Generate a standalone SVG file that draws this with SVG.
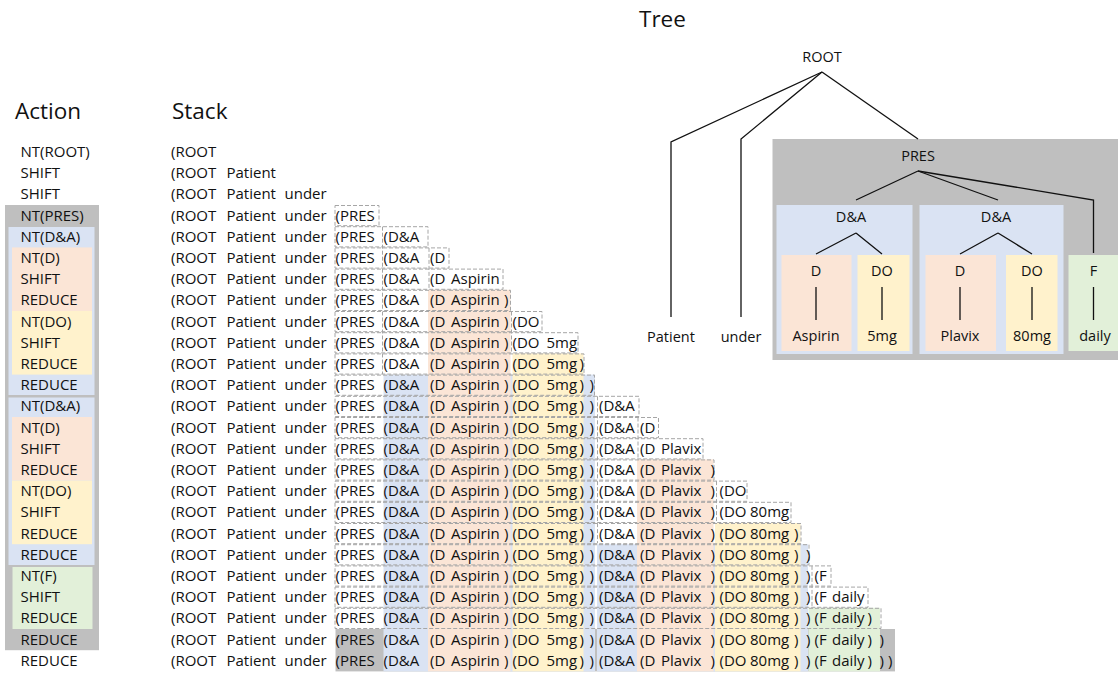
<svg xmlns="http://www.w3.org/2000/svg" width="1118" height="673" viewBox="0 0 1118 673">
<style>
text{font-family:"Open Sans","Liberation Sans",sans-serif;fill:#111;}
.t{font-size:15px;}
.n{font-size:14.5px;text-anchor:middle;}
.h{font-size:22.5px;}
.gr{fill:#bfbfbf;}
.bl{fill:#dae3f3;}
.or{fill:#fbe5d6;}
.ye{fill:#fff2cc;}
.gn{fill:#e2f0d9;}
.dash{fill:none;stroke:#a6a6a6;stroke-width:1;stroke-dasharray:4 2;}
.ln{fill:none;stroke:#111;stroke-width:1.3;}
</style>
<rect width="1118" height="673" fill="#fff"/>

<!-- titles -->
<text class="h" x="15" y="119">Action</text>
<text class="h" x="172" y="119">Stack</text>
<text class="h" x="639" y="27">Tree</text>

<!-- action column -->
<g id="action-column">
<rect class="gr" x="5" y="205" width="94" height="445.2"/>
<rect class="bl" x="8.5" y="227" width="86" height="168"/>
<rect class="or" x="12" y="247.4" width="80" height="63.6"/>
<rect class="ye" x="12" y="311" width="80" height="63.6"/>
<rect class="bl" x="8.5" y="397.5" width="86" height="167.5"/>
<rect class="or" x="12" y="417" width="80" height="63.6"/>
<rect class="ye" x="12" y="480.6" width="80" height="63.6"/>
<rect class="gn" x="12.5" y="567" width="80" height="62"/>
<g class="t">
<text x="20.5" y="157">NT(ROOT)</text>
<text x="20.5" y="178.2">SHIFT</text>
<text x="20.5" y="199.4">SHIFT</text>
<text x="20.5" y="220.6">NT(PRES)</text>
<text x="20.5" y="241.8">NT(D&amp;A)</text>
<text x="20.5" y="263">NT(D)</text>
<text x="20.5" y="284.2">SHIFT</text>
<text x="20.5" y="305.4">REDUCE</text>
<text x="20.5" y="326.6">NT(DO)</text>
<text x="20.5" y="347.8">SHIFT</text>
<text x="20.5" y="369">REDUCE</text>
<text x="20.5" y="390.2">REDUCE</text>
<text x="20.5" y="411.4">NT(D&amp;A)</text>
<text x="20.5" y="432.6">NT(D)</text>
<text x="20.5" y="453.8">SHIFT</text>
<text x="20.5" y="475">REDUCE</text>
<text x="20.5" y="496.2">NT(DO)</text>
<text x="20.5" y="517.4">SHIFT</text>
<text x="20.5" y="538.6">REDUCE</text>
<text x="20.5" y="559.8">REDUCE</text>
<text x="20.5" y="581">NT(F)</text>
<text x="20.5" y="602.2">SHIFT</text>
<text x="20.5" y="623.4">REDUCE</text>
<text x="20.5" y="644.6">REDUCE</text>
<text x="20.5" y="665.8">REDUCE</text>
</g>
</g>

<!-- stack highlight bands -->
<g id="stack-bands">
<rect class="gr" x="335.5" y="629" width="559.5" height="42.4"/>
<rect class="bl" x="383.5" y="374.6" width="211.5" height="296.8"/>
<rect class="or" x="428" y="289.8" width="82.5" height="381.6"/>
<rect class="ye" x="512.5" y="353.4" width="71" height="318"/>
<rect class="bl" x="597" y="544.2" width="211" height="127.2"/>
<rect class="or" x="637" y="459.4" width="76.5" height="212"/>
<rect class="ye" x="715" y="523" width="85.5" height="148.4"/>
<rect class="gn" x="808.5" y="607.8" width="71.5" height="63.6"/>
</g>

<!-- open-constituent dashed boxes -->
<g id="stack-open-boxes">
<rect class="dash" x="335" y="205.5" width="44" height="20.2"/>
<rect class="dash" x="335" y="226.7" width="93" height="20.2"/>
<rect class="dash" x="335" y="247.9" width="114" height="20.2"/>
<rect class="dash" x="335" y="269.1" width="168" height="20.2"/>
<rect class="dash" x="335" y="290.3" width="175.5" height="20.2"/>
<rect class="dash" x="335" y="311.5" width="207" height="20.2"/>
<rect class="dash" x="335" y="332.7" width="243" height="20.2"/>
<rect class="dash" x="335" y="353.9" width="249" height="20.2"/>
<rect class="dash" x="335" y="375.1" width="259.5" height="20.2"/>
<rect class="dash" x="335" y="396.3" width="304" height="20.2"/>
<rect class="dash" x="335" y="417.5" width="323.5" height="20.2"/>
<rect class="dash" x="335" y="438.7" width="368" height="20.2"/>
<rect class="dash" x="335" y="459.9" width="379" height="20.2"/>
<rect class="dash" x="335" y="481.1" width="412" height="20.2"/>
<rect class="dash" x="335" y="502.3" width="456" height="20.2"/>
<rect class="dash" x="335" y="523.5" width="466" height="20.2"/>
<rect class="dash" x="335" y="544.7" width="474" height="20.2"/>
<rect class="dash" x="335" y="565.9" width="496" height="20.2"/>
<rect class="dash" x="335" y="587.1" width="533" height="20.2"/>
<rect class="dash" x="335" y="608.3" width="546" height="20.2"/>
<path class="dash" d="M382.5 226.7V310.5 M382.5 311.5V374.1 M429 247.9V289.3 M511.5 311.5V352.9 M597.5 396.3V480.1 M597.5 481.1V543.2 M638 417.5V458.9 M716.5 481.1V522.5 M812 565.9V607.3"/>
</g>

<!-- stack rows -->
<g id="stack-rows" class="t">
<text y="157"><tspan x="171">(ROOT</tspan></text>
<text y="178.2"><tspan x="171">(ROOT</tspan><tspan x="226.5">Patient</tspan></text>
<text y="199.4"><tspan x="171">(ROOT</tspan><tspan x="226.5">Patient</tspan><tspan x="284.5">under</tspan></text>
<text y="220.6"><tspan x="171">(ROOT</tspan><tspan x="226.5">Patient</tspan><tspan x="284.5">under</tspan><tspan x="335.5">(PRES</tspan></text>
<text y="241.8"><tspan x="171">(ROOT</tspan><tspan x="226.5">Patient</tspan><tspan x="284.5">under</tspan><tspan x="335.5">(PRES</tspan><tspan x="383.5">(D&amp;A</tspan></text>
<text y="263"><tspan x="171">(ROOT</tspan><tspan x="226.5">Patient</tspan><tspan x="284.5">under</tspan><tspan x="335.5">(PRES</tspan><tspan x="383.5">(D&amp;A</tspan><tspan x="430">(D</tspan></text>
<text y="284.2"><tspan x="171">(ROOT</tspan><tspan x="226.5">Patient</tspan><tspan x="284.5">under</tspan><tspan x="335.5">(PRES</tspan><tspan x="383.5">(D&amp;A</tspan><tspan x="430">(D</tspan><tspan x="451">Aspirin</tspan></text>
<text y="305.4"><tspan x="171">(ROOT</tspan><tspan x="226.5">Patient</tspan><tspan x="284.5">under</tspan><tspan x="335.5">(PRES</tspan><tspan x="383.5">(D&amp;A</tspan><tspan x="430">(D</tspan><tspan x="451">Aspirin</tspan><tspan x="504">)</tspan></text>
<text y="326.6"><tspan x="171">(ROOT</tspan><tspan x="226.5">Patient</tspan><tspan x="284.5">under</tspan><tspan x="335.5">(PRES</tspan><tspan x="383.5">(D&amp;A</tspan><tspan x="430">(D</tspan><tspan x="451">Aspirin</tspan><tspan x="504">)</tspan><tspan x="512.5">(DO</tspan></text>
<text y="347.8"><tspan x="171">(ROOT</tspan><tspan x="226.5">Patient</tspan><tspan x="284.5">under</tspan><tspan x="335.5">(PRES</tspan><tspan x="383.5">(D&amp;A</tspan><tspan x="430">(D</tspan><tspan x="451">Aspirin</tspan><tspan x="504">)</tspan><tspan x="512.5">(DO</tspan><tspan x="546.5">5mg</tspan></text>
<text y="369"><tspan x="171">(ROOT</tspan><tspan x="226.5">Patient</tspan><tspan x="284.5">under</tspan><tspan x="335.5">(PRES</tspan><tspan x="383.5">(D&amp;A</tspan><tspan x="430">(D</tspan><tspan x="451">Aspirin</tspan><tspan x="504">)</tspan><tspan x="512.5">(DO</tspan><tspan x="546.5">5mg</tspan><tspan x="579.5">)</tspan></text>
<text y="390.2"><tspan x="171">(ROOT</tspan><tspan x="226.5">Patient</tspan><tspan x="284.5">under</tspan><tspan x="335.5">(PRES</tspan><tspan x="383.5">(D&amp;A</tspan><tspan x="430">(D</tspan><tspan x="451">Aspirin</tspan><tspan x="504">)</tspan><tspan x="512.5">(DO</tspan><tspan x="546.5">5mg</tspan><tspan x="579.5">)</tspan><tspan x="589.5">)</tspan></text>
<text y="411.4"><tspan x="171">(ROOT</tspan><tspan x="226.5">Patient</tspan><tspan x="284.5">under</tspan><tspan x="335.5">(PRES</tspan><tspan x="383.5">(D&amp;A</tspan><tspan x="430">(D</tspan><tspan x="451">Aspirin</tspan><tspan x="504">)</tspan><tspan x="512.5">(DO</tspan><tspan x="546.5">5mg</tspan><tspan x="579.5">)</tspan><tspan x="589.5">)</tspan><tspan x="599">(D&amp;A</tspan></text>
<text y="432.6"><tspan x="171">(ROOT</tspan><tspan x="226.5">Patient</tspan><tspan x="284.5">under</tspan><tspan x="335.5">(PRES</tspan><tspan x="383.5">(D&amp;A</tspan><tspan x="430">(D</tspan><tspan x="451">Aspirin</tspan><tspan x="504">)</tspan><tspan x="512.5">(DO</tspan><tspan x="546.5">5mg</tspan><tspan x="579.5">)</tspan><tspan x="589.5">)</tspan><tspan x="599">(D&amp;A</tspan><tspan x="640">(D</tspan></text>
<text y="453.8"><tspan x="171">(ROOT</tspan><tspan x="226.5">Patient</tspan><tspan x="284.5">under</tspan><tspan x="335.5">(PRES</tspan><tspan x="383.5">(D&amp;A</tspan><tspan x="430">(D</tspan><tspan x="451">Aspirin</tspan><tspan x="504">)</tspan><tspan x="512.5">(DO</tspan><tspan x="546.5">5mg</tspan><tspan x="579.5">)</tspan><tspan x="589.5">)</tspan><tspan x="599">(D&amp;A</tspan><tspan x="640">(D</tspan><tspan x="661">Plavix</tspan></text>
<text y="475"><tspan x="171">(ROOT</tspan><tspan x="226.5">Patient</tspan><tspan x="284.5">under</tspan><tspan x="335.5">(PRES</tspan><tspan x="383.5">(D&amp;A</tspan><tspan x="430">(D</tspan><tspan x="451">Aspirin</tspan><tspan x="504">)</tspan><tspan x="512.5">(DO</tspan><tspan x="546.5">5mg</tspan><tspan x="579.5">)</tspan><tspan x="589.5">)</tspan><tspan x="599">(D&amp;A</tspan><tspan x="640">(D</tspan><tspan x="661">Plavix</tspan><tspan x="710.5">)</tspan></text>
<text y="496.2"><tspan x="171">(ROOT</tspan><tspan x="226.5">Patient</tspan><tspan x="284.5">under</tspan><tspan x="335.5">(PRES</tspan><tspan x="383.5">(D&amp;A</tspan><tspan x="430">(D</tspan><tspan x="451">Aspirin</tspan><tspan x="504">)</tspan><tspan x="512.5">(DO</tspan><tspan x="546.5">5mg</tspan><tspan x="579.5">)</tspan><tspan x="589.5">)</tspan><tspan x="599">(D&amp;A</tspan><tspan x="640">(D</tspan><tspan x="661">Plavix</tspan><tspan x="710.5">)</tspan><tspan x="719.5">(DO</tspan></text>
<text y="517.4"><tspan x="171">(ROOT</tspan><tspan x="226.5">Patient</tspan><tspan x="284.5">under</tspan><tspan x="335.5">(PRES</tspan><tspan x="383.5">(D&amp;A</tspan><tspan x="430">(D</tspan><tspan x="451">Aspirin</tspan><tspan x="504">)</tspan><tspan x="512.5">(DO</tspan><tspan x="546.5">5mg</tspan><tspan x="579.5">)</tspan><tspan x="589.5">)</tspan><tspan x="599">(D&amp;A</tspan><tspan x="640">(D</tspan><tspan x="661">Plavix</tspan><tspan x="710.5">)</tspan><tspan x="719.5">(DO</tspan><tspan x="750">80mg</tspan></text>
<text y="538.6"><tspan x="171">(ROOT</tspan><tspan x="226.5">Patient</tspan><tspan x="284.5">under</tspan><tspan x="335.5">(PRES</tspan><tspan x="383.5">(D&amp;A</tspan><tspan x="430">(D</tspan><tspan x="451">Aspirin</tspan><tspan x="504">)</tspan><tspan x="512.5">(DO</tspan><tspan x="546.5">5mg</tspan><tspan x="579.5">)</tspan><tspan x="589.5">)</tspan><tspan x="599">(D&amp;A</tspan><tspan x="640">(D</tspan><tspan x="661">Plavix</tspan><tspan x="710.5">)</tspan><tspan x="719.5">(DO</tspan><tspan x="750">80mg</tspan><tspan x="794">)</tspan></text>
<text y="559.8"><tspan x="171">(ROOT</tspan><tspan x="226.5">Patient</tspan><tspan x="284.5">under</tspan><tspan x="335.5">(PRES</tspan><tspan x="383.5">(D&amp;A</tspan><tspan x="430">(D</tspan><tspan x="451">Aspirin</tspan><tspan x="504">)</tspan><tspan x="512.5">(DO</tspan><tspan x="546.5">5mg</tspan><tspan x="579.5">)</tspan><tspan x="589.5">)</tspan><tspan x="599">(D&amp;A</tspan><tspan x="640">(D</tspan><tspan x="661">Plavix</tspan><tspan x="710.5">)</tspan><tspan x="719.5">(DO</tspan><tspan x="750">80mg</tspan><tspan x="794">)</tspan><tspan x="806">)</tspan></text>
<text y="581"><tspan x="171">(ROOT</tspan><tspan x="226.5">Patient</tspan><tspan x="284.5">under</tspan><tspan x="335.5">(PRES</tspan><tspan x="383.5">(D&amp;A</tspan><tspan x="430">(D</tspan><tspan x="451">Aspirin</tspan><tspan x="504">)</tspan><tspan x="512.5">(DO</tspan><tspan x="546.5">5mg</tspan><tspan x="579.5">)</tspan><tspan x="589.5">)</tspan><tspan x="599">(D&amp;A</tspan><tspan x="640">(D</tspan><tspan x="661">Plavix</tspan><tspan x="710.5">)</tspan><tspan x="719.5">(DO</tspan><tspan x="750">80mg</tspan><tspan x="794">)</tspan><tspan x="806">)</tspan><tspan x="814.5">(F</tspan></text>
<text y="602.2"><tspan x="171">(ROOT</tspan><tspan x="226.5">Patient</tspan><tspan x="284.5">under</tspan><tspan x="335.5">(PRES</tspan><tspan x="383.5">(D&amp;A</tspan><tspan x="430">(D</tspan><tspan x="451">Aspirin</tspan><tspan x="504">)</tspan><tspan x="512.5">(DO</tspan><tspan x="546.5">5mg</tspan><tspan x="579.5">)</tspan><tspan x="589.5">)</tspan><tspan x="599">(D&amp;A</tspan><tspan x="640">(D</tspan><tspan x="661">Plavix</tspan><tspan x="710.5">)</tspan><tspan x="719.5">(DO</tspan><tspan x="750">80mg</tspan><tspan x="794">)</tspan><tspan x="806">)</tspan><tspan x="814.5">(F</tspan><tspan x="832">daily</tspan></text>
<text y="623.4"><tspan x="171">(ROOT</tspan><tspan x="226.5">Patient</tspan><tspan x="284.5">under</tspan><tspan x="335.5">(PRES</tspan><tspan x="383.5">(D&amp;A</tspan><tspan x="430">(D</tspan><tspan x="451">Aspirin</tspan><tspan x="504">)</tspan><tspan x="512.5">(DO</tspan><tspan x="546.5">5mg</tspan><tspan x="579.5">)</tspan><tspan x="589.5">)</tspan><tspan x="599">(D&amp;A</tspan><tspan x="640">(D</tspan><tspan x="661">Plavix</tspan><tspan x="710.5">)</tspan><tspan x="719.5">(DO</tspan><tspan x="750">80mg</tspan><tspan x="794">)</tspan><tspan x="806">)</tspan><tspan x="814.5">(F</tspan><tspan x="832">daily</tspan><tspan x="867.5">)</tspan></text>
<text y="644.6"><tspan x="171">(ROOT</tspan><tspan x="226.5">Patient</tspan><tspan x="284.5">under</tspan><tspan x="335.5">(PRES</tspan><tspan x="383.5">(D&amp;A</tspan><tspan x="430">(D</tspan><tspan x="451">Aspirin</tspan><tspan x="504">)</tspan><tspan x="512.5">(DO</tspan><tspan x="546.5">5mg</tspan><tspan x="579.5">)</tspan><tspan x="589.5">)</tspan><tspan x="599">(D&amp;A</tspan><tspan x="640">(D</tspan><tspan x="661">Plavix</tspan><tspan x="710.5">)</tspan><tspan x="719.5">(DO</tspan><tspan x="750">80mg</tspan><tspan x="794">)</tspan><tspan x="806">)</tspan><tspan x="814.5">(F</tspan><tspan x="832">daily</tspan><tspan x="867.5">)</tspan><tspan x="879.5">)</tspan></text>
<text y="665.8"><tspan x="171">(ROOT</tspan><tspan x="226.5">Patient</tspan><tspan x="284.5">under</tspan><tspan x="335.5">(PRES</tspan><tspan x="383.5">(D&amp;A</tspan><tspan x="430">(D</tspan><tspan x="451">Aspirin</tspan><tspan x="504">)</tspan><tspan x="512.5">(DO</tspan><tspan x="546.5">5mg</tspan><tspan x="579.5">)</tspan><tspan x="589.5">)</tspan><tspan x="599">(D&amp;A</tspan><tspan x="640">(D</tspan><tspan x="661">Plavix</tspan><tspan x="710.5">)</tspan><tspan x="719.5">(DO</tspan><tspan x="750">80mg</tspan><tspan x="794">)</tspan><tspan x="806">)</tspan><tspan x="814.5">(F</tspan><tspan x="832">daily</tspan><tspan x="867.5">)</tspan><tspan x="879.5">)</tspan><tspan x="888">)</tspan></text>
</g>

<!-- tree: grouped boxes -->
<g id="tree-pres-box"><rect class="gr" x="772.5" y="139" width="345.5" height="221"/></g>
<g id="tree-da1-box"><rect class="bl" x="776.5" y="205" width="136" height="149"/></g>
<g id="tree-da2-box"><rect class="bl" x="919.5" y="205" width="144" height="149"/></g>
<g id="tree-d1-box"><rect class="or" x="781.5" y="255" width="70" height="96"/></g>
<g id="tree-do1-box"><rect class="ye" x="857.5" y="255" width="52" height="96"/></g>
<g id="tree-d2-box"><rect class="or" x="925.5" y="255" width="70.5" height="96"/></g>
<g id="tree-do2-box"><rect class="ye" x="1006" y="255" width="51.5" height="96"/></g>
<g id="tree-f-box"><rect class="gn" x="1068.5" y="255" width="49.5" height="96"/></g>

<!-- tree connectors -->
<g id="connectors">
<path class="ln" d="M822 72 L671 142 V317"/>
<path class="ln" d="M822 72 L741 139 V317"/>
<path class="ln" d="M822 72 L918 139"/>
<path class="ln" d="M918 171 L856 200"/>
<path class="ln" d="M918 171 L998 200"/>
<path class="ln" d="M918 171 L1093.5 200 V253"/>
<path class="ln" d="M856 233 L816 254 M856 233 L882 254"/>
<path class="ln" d="M998 233 L960 254 M998 233 L1032 254"/>
<path class="ln" d="M816 287 V320 M882 287 V320 M960 287 V320 M1032 287 V320 M1093.5 287 V320"/>
</g>

<!-- tree node labels -->
<g id="node-root"><text class="n" x="822" y="61.5">ROOT</text></g>
<g id="node-pres"><text class="n" x="918" y="160.5">PRES</text></g>
<g id="node-da1"><text class="n" x="851" y="222">D&amp;A</text></g>
<g id="node-da2"><text class="n" x="996" y="222">D&amp;A</text></g>
<g id="node-d1"><text class="n" x="816" y="276">D</text></g>
<g id="node-do1"><text class="n" x="882" y="276">DO</text></g>
<g id="node-d2"><text class="n" x="960" y="276">D</text></g>
<g id="node-do2"><text class="n" x="1032" y="276">DO</text></g>
<g id="node-f"><text class="n" x="1093.5" y="276">F</text></g>
<g id="leaf-patient"><text class="n" x="671" y="341.5">Patient</text></g>
<g id="leaf-under"><text class="n" x="741" y="341.5">under</text></g>
<g id="leaf-aspirin"><text class="n" x="816" y="341">Aspirin</text></g>
<g id="leaf-5mg"><text class="n" x="882" y="341">5mg</text></g>
<g id="leaf-plavix"><text class="n" x="960" y="341">Plavix</text></g>
<g id="leaf-80mg"><text class="n" x="1032" y="341">80mg</text></g>
<g id="leaf-daily"><text class="n" x="1095" y="341">daily</text></g>
</svg>
